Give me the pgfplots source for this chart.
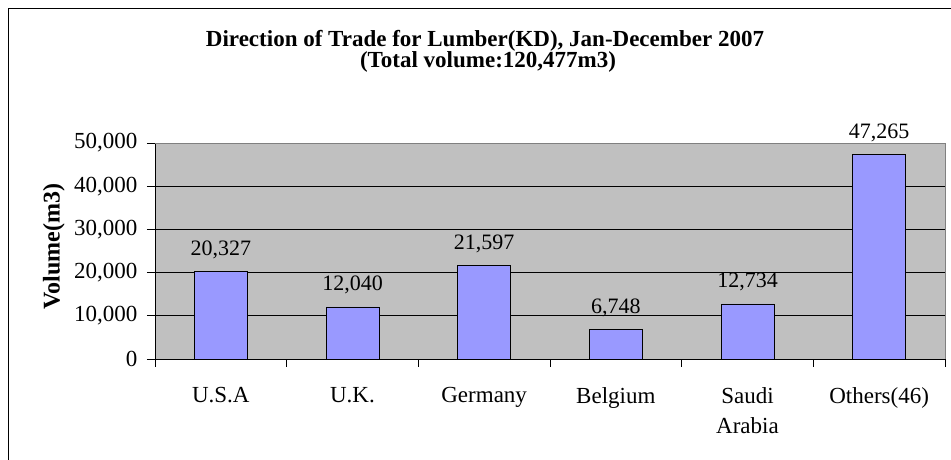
\documentclass[border=0pt]{standalone}
\usepackage{fontspec}
\setmainfont{Liberation Serif}
\usepackage{pgfplots}
\pgfplotsset{compat=1.18}
\definecolor{barblue}{HTML}{9999FF}
\definecolor{plotgray}{HTML}{C0C0C0}
\begin{document}
\begin{tikzpicture}[x=1pt,y=1pt]
\useasboundingbox (0,0) rectangle (951,460);
\fill[white] (0,0) rectangle (951,460);
\draw[black, line width=1pt] (8,0) -- (8,451) -- (951,451);
\node[anchor=base, inner sep=0pt, font=\bfseries\fontsize{23}{27}\selectfont] at (485,413) {Direction of Trade for Lumber(KD), Jan-December 2007};
\node[anchor=base, inner sep=0pt, font=\bfseries\fontsize{23}{27}\selectfont] at (488,392) {(Total volume:120,477m3)};
\begin{axis}[
  at={(155pt,101pt)}, anchor=south west,
  scale only axis, width=790pt, height=216pt,
  xmin=-0.5, xmax=5.5, ymin=0, ymax=50000,
  axis background/.style={fill=plotgray},
  ybar, bar width=53pt,
  axis lines=left, axis line style={-, black, line width=0.6pt},
  xtick={-0.5,0.5,1.5,2.5,3.5,4.5,5.5},
  x tick label as interval,
  xticklabels={U.S.A, U.K., Germany, Belgium, {Saudi\\Arabia}, Others(46)},
  x tick label style={align=center, font=\fontsize{23}{30}\selectfont, yshift=-17pt},
  ytick={0,10000,20000,30000,40000,50000},
  y tick label style={font=\fontsize{23}{27}\selectfont, xshift=-6pt},
  scaled y ticks=false,
  ymajorgrids, grid style={black, line width=0.6pt},
  tick align=outside, major tick length=8pt, tick style={black, line width=0.6pt},
  /pgf/number format/.cd, 1000 sep={,}, assume math mode=true, /pgfplots/.cd,
  nodes near coords,
  every node near coord/.append style={font=\fontsize{22}{26}\selectfont, anchor=base, yshift=16pt, inner sep=0pt, black},
  ylabel={\bfseries Volume(m3)},
  ylabel style={at={(axis description cs:-0.128,0.52)}, anchor=center, font=\fontsize{24}{28}\selectfont},
  clip=false,
]
\addplot[fill=barblue, draw=black, line width=0.8pt] coordinates {(0,20327) (1,12040) (2,21597) (3,6748) (4,12734) (5,47265)};
\draw[gray, line width=0.6pt] (rel axis cs:0,1) -- (rel axis cs:1,1) -- (rel axis cs:1,0);
\end{axis}
\end{tikzpicture}
\end{document}
